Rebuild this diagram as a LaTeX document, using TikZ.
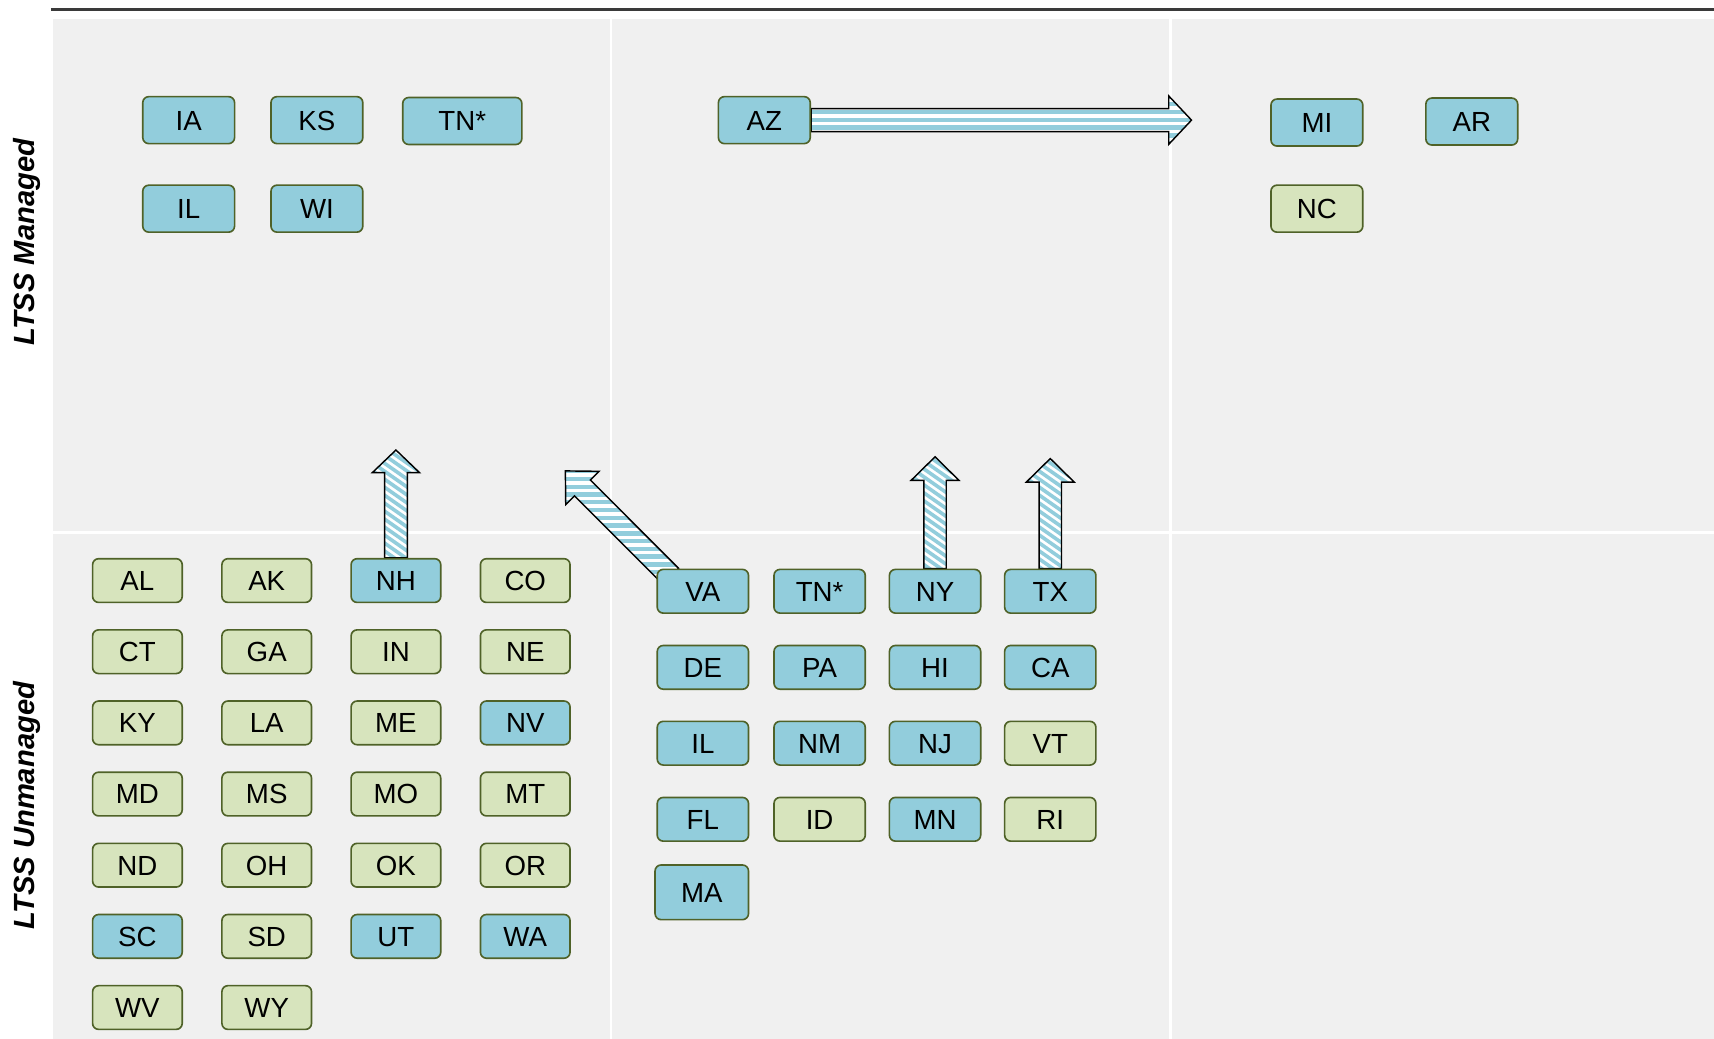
\documentclass[tikz,border=0pt]{standalone}
\usepackage{fontspec}
\setmainfont{Liberation Sans}
\usetikzlibrary{calc}
\definecolor{boxblue}{HTML}{92CDDC}
\definecolor{boxgreen}{HTML}{D7E4BD}
\definecolor{boxline}{HTML}{4F6228}
\definecolor{panelgray}{HTML}{F0F0F0}
\definecolor{stripeblue}{HTML}{92CDDC}
\definecolor{toplinec}{HTML}{3A3A3A}
\pgfdeclarelayer{bg}
\pgfdeclarelayer{arrowlayer}
\pgfsetlayers{bg,arrowlayer,main}
\tikzset{
  st/.style={draw=boxline, line width=0.85pt, rounded corners=0.11cm,
    minimum width=1.64cm, minimum height=0.80cm, inner sep=0pt,
    font=\fontsize{14.4}{16}\selectfont, text height=10.3pt, text depth=0pt},
  sb/.style={st, fill=boxblue},
  sg/.style={st, fill=boxgreen},
  topsz/.style={minimum width=1.68cm, minimum height=0.86cm},
  midsz/.style={minimum width=1.67cm, minimum height=0.80cm},
  axislabel/.style={rotate=90, font=\fontsize{15.2}{17}\selectfont\bfseries\itshape,
    inner sep=0pt, text height=10.9pt, text depth=0pt},
  gridline/.style={draw=white, line width=0.044cm},
  arrowline/.style={draw=black, line width=0.75pt, line join=miter},
  stripeline/.style={draw=stripeblue, line width=0.08cm},
  dstripeline/.style={draw=stripeblue, line width=0.066cm}
}
% #1 tail, #2 tip, #3 shaft half width, #4 head half width, #5 head length, #6 stripes
\newcommand\fatarrow[6]{%
  \coordinate (fab) at ($(#2)!#5!(#1)$);
  \coordinate (fa1) at ($(#1)!#3!90:(#2)$);
  \coordinate (fa2) at ($(fab)!#3!90:(#2)$);
  \coordinate (fa3) at ($(fab)!#4!90:(#2)$);
  \coordinate (fa4) at ($(fab)!#4!-90:(#2)$);
  \coordinate (fa5) at ($(fab)!#3!-90:(#2)$);
  \coordinate (fa6) at ($(#1)!#3!-90:(#2)$);
  \fill[white] (fa1)--(fa2)--(fa3)--(#2)--(fa4)--(fa5)--(fa6)--cycle;
  \begin{scope}
    \clip (fa1)--(fa2)--(fa3)--(#2)--(fa4)--(fa5)--(fa6)--cycle;
    #6
  \end{scope}
  \draw[arrowline] (fa1)--(fa2)--(fa3)--(#2)--(fa4)--(fa5)--(fa6)--cycle;
}
% horizontal stripes: x1, x2, y0, count
\newcommand\hstripes[4]{\foreach \k in {0,...,#4} {\draw[stripeline] (#1,#3+\k*7.1) -- (#2,#3+\k*7.1);}}
% diagonal stripes: cx, y0, count
\newcommand\vstripes[3]{\foreach \k in {0,...,#3} {\draw[dstripeline] (#1-40,#2+\k*7.3-28) -- (#1+40,#2+\k*7.3+28);}}

\begin{document}
\begin{tikzpicture}[x=0.02cm, y=-0.02cm]
\useasboundingbox (0,0) rectangle (1568,950.5);

\begin{pgfonlayer}{bg}
  \fill[panelgray] (48.3,17.4) rectangle (1568,950.5);
  \draw[gridline] (559.2,17.4) -- (559.2,950.5);
  \draw[gridline] (1070.8,17.4) -- (1070.8,950.5);
  \draw[gridline] (48.3,487.3) -- (1568,487.3);
  \draw[draw=toplinec, line width=0.045cm] (46.6,8.5) -- (1568,8.5);
\end{pgfonlayer}

% axis labels
\node[axislabel] (lblM) at (22,221.5) {LTSS Managed};
\node[axislabel] (lblU) at (22,737) {LTSS Unmanaged};

% top-left quadrant
\node[sb, topsz] (IA) at (172.6,109.9) {IA};
\node[sb, topsz] (KS) at (289.9,109.9) {KS};
\node[sb, topsz, minimum width=2.18cm] (TNa) at (422.9,110.7) {TN*};
\node[sb, topsz] (ILa) at (172.6,190.9) {IL};
\node[sb, topsz] (WI) at (289.9,190.9) {WI};

% top-middle / top-right
\node[sb, topsz] (AZ) at (699.2,109.9) {AZ};
\node[sb, topsz] (MI) at (1204.7,112.1) {MI};
\node[sb, topsz] (AR) at (1346.4,111.2) {AR};
\node[sg, topsz] (NC) at (1204.7,190.9) {NC};

% bottom-left quadrant
\node[sg] (AL) at (125.7,531.1) {AL};
\node[sg] (AK) at (244,531.1) {AK};
\node[sb] (NH) at (362.2,531.1) {NH};
\node[sg] (CO) at (480.5,531.1) {CO};
\node[sg] (CT) at (125.7,596.2) {CT};
\node[sg] (GA) at (244,596.2) {GA};
\node[sg] (IN) at (362.2,596.2) {IN};
\node[sg] (NE) at (480.5,596.2) {NE};
\node[sg] (KY) at (125.7,661.3) {KY};
\node[sg] (LA) at (244,661.3) {LA};
\node[sg] (ME) at (362.2,661.3) {ME};
\node[sb] (NV) at (480.5,661.3) {NV};
\node[sg] (MD) at (125.7,726.4) {MD};
\node[sg] (MS) at (244,726.4) {MS};
\node[sg] (MO) at (362.2,726.4) {MO};
\node[sg] (MT) at (480.5,726.4) {MT};
\node[sg] (ND) at (125.7,791.5) {ND};
\node[sg] (OH) at (244,791.5) {OH};
\node[sg] (OK) at (362.2,791.5) {OK};
\node[sg] (OR) at (480.5,791.5) {OR};
\node[sb] (SC) at (125.7,856.6) {SC};
\node[sg] (SD) at (244,856.6) {SD};
\node[sb] (UT) at (362.2,856.6) {UT};
\node[sb] (WA) at (480.5,856.6) {WA};
\node[sg] (WV) at (125.7,921.7) {WV};
\node[sg] (WY) at (244,921.7) {WY};

% bottom-middle quadrant
\node[sb, midsz] (VA) at (643,540.9) {VA};
\node[sb, midsz] (TNb) at (749.8,540.9) {TN*};
\node[sb, midsz] (NY) at (855.4,540.9) {NY};
\node[sb, midsz] (TX) at (960.8,540.9) {TX};
\node[sb, midsz] (DE) at (643,610.5) {DE};
\node[sb, midsz] (PA) at (749.8,610.5) {PA};
\node[sb, midsz] (HI) at (855.4,610.5) {HI};
\node[sb, midsz] (CA) at (960.8,610.5) {CA};
\node[sb, midsz] (ILb) at (643,679.9) {IL};
\node[sb, midsz] (NM) at (749.8,679.9) {NM};
\node[sb, midsz] (NJ) at (855.4,679.9) {NJ};
\node[sg, midsz] (VT) at (960.8,679.9) {VT};
\node[sb, midsz] (FL) at (643,749.5) {FL};
\node[sg, midsz] (ID) at (749.8,749.5) {ID};
\node[sb, midsz] (MN) at (855.4,749.5) {MN};
\node[sg, midsz] (RI) at (960.8,749.5) {RI};
\node[sb, minimum width=1.71cm, minimum height=1.0cm] (MA) at (642,816.3) {MA};

% arrow end points
\coordinate (azTip) at (1090,109.9);
\coordinate (nhTip) at (362.2,411.7);
\coordinate (nyTip) at (855.4,417.9);
\coordinate (txTip) at (960.8,419.5);
\coordinate (vaTip) at (517.2,430.8);
\coordinate (vaTail) at ($(VA.north west)+(13,7)$);

\begin{pgfonlayer}{arrowlayer}
  \fatarrow{AZ.east}{azTip}{0.212cm}{0.442cm}{0.416cm}{\hstripes{730}{1100}{88.3}{6}}
  \fatarrow{NH.north}{nhTip}{0.208cm}{0.432cm}{0.414cm}{\vstripes{362.2}{380}{22}}
  \fatarrow{NY.north}{nyTip}{0.205cm}{0.437cm}{0.43cm}{\vstripes{855.4}{385}{22}}
  \fatarrow{TX.north}{txTip}{0.205cm}{0.437cm}{0.43cm}{\vstripes{960.8}{387}{22}}
  \fatarrow{vaTail}{vaTip}{0.205cm}{0.43cm}{0.44cm}{\hstripes{500}{640}{424}{16}}
\end{pgfonlayer}
\end{tikzpicture}
\end{document}
